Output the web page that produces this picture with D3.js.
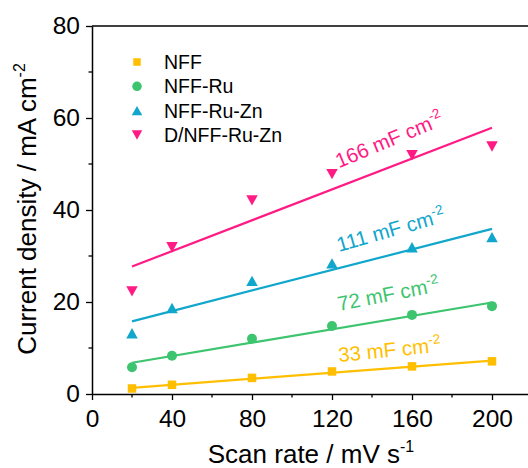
<!DOCTYPE html>
<html><head><meta charset="utf-8">
<script src="https://cdn.jsdelivr.net/npm/d3@7"></script>
<style>body{margin:0;background:#fff}svg{display:block;font-family:"Liberation Sans",Arial,sans-serif}</style>
</head><body><svg id="c" width="528" height="468"></svg>
<script>
const scanRates = [20, 40, 80, 120, 160, 200];
const seriesNames = ["NFF", "NFF-Ru", "NFF-Ru-Zn", "D/NFF-Ru-Zn"];
const nffValues = [1.2, 2.0, 3.5, 4.9, 6.0, 7.1];
const nffRuValues = [5.8, 8.3, 12.0, 14.8, 17.2, 19.1];
const nffRuZnValues = [13.2, 18.7, 24.6, 28.4, 31.9, 34.1];
const dNffRuZnValues = [22.3, 31.9, 42.1, 47.8, 51.9, 53.8];
const fitRange = [20, 200];
const fitStart = [1.35, 6.8, 15.8, 27.7];
const fitEnd = [7.25, 19.9, 35.9, 57.9];
const capLabels = ["33 mF cm", "72 mF cm", "111 mF cm", "166 mF cm"];
const xTicks = [0, 40, 80, 120, 160, 200];
const yTicks = [0, 20, 40, 60, 80];

const colors = ["#FFBF00", "#3CC46E", "#11A6CB", "#FF1A84"];
const shapes = ["square", "circle", "up", "down"];
const allValues = [nffValues, nffRuValues, nffRuZnValues, dNffRuZnValues];

const svg = d3.select("#c");
const x = d3.scaleLinear().domain([0, 220]).range([92, 532]);
const y = d3.scaleLinear().domain([0, 80]).range([394, 26]);

function shapePath(shape, s) {
  if (shape === "square") { const h = s / 2; return `M${-h},${-h}H${h}V${h}H${-h}Z`; }
  if (shape === "circle") { const r = s / 2; return `M${r},0A${r},${r} 0 1,1 ${-r},0A${r},${r} 0 1,1 ${r},0Z`; }
  const w = s / 2, h = s * 0.45;
  if (shape === "up") return `M0,${-h}L${w},${h}L${-w},${h}Z`;
  return `M0,${h}L${w},${-h}L${-w},${-h}Z`;
}
const markerSize = {square: 8.5, circle: 10, up: 11.5, down: 11.5};
const legendSize = {square: 7.5, circle: 9.5, up: 10.5, down: 10.5};

// axes
const xAxis = d3.axisBottom(x).tickValues(xTicks).tickSize(6).tickPadding(10).tickSizeOuter(0);
const gx = svg.append("g").attr("transform", "translate(0,394)").call(xAxis);
gx.append("g").selectAll("line").data([20, 60, 100, 140, 180]).join("line")
  .attr("x1", d => x(d)).attr("x2", d => x(d)).attr("y1", 0).attr("y2", 3.5)
  .attr("stroke", "#000").attr("stroke-width", 1.3);
const yAxis = d3.axisLeft(y).tickValues(yTicks).tickSize(6).tickPadding(6).tickSizeOuter(0);
const gy = svg.append("g").attr("transform", "translate(92,0)").call(yAxis);
gy.append("g").selectAll("line").data([10, 30, 50, 70]).join("line")
  .attr("x1", 0).attr("x2", -3.5).attr("y1", d => y(d)).attr("y2", d => y(d))
  .attr("stroke", "#000").attr("stroke-width", 1.3);
[gx, gy].forEach(g => {
  g.select(".domain").attr("stroke-width", 1.5);
  g.selectAll(".tick line").attr("stroke-width", 1.3);
  g.selectAll(".tick text").attr("font-size", 24.5).attr("fill", "#000").attr("font-family", "Liberation Sans, Arial, sans-serif");
});
svg.append("line").attr("x1", x(0)).attr("x2", x(220)).attr("y1", y(80)).attr("y2", y(80))
  .attr("stroke", "#000").attr("stroke-width", 1.5);

// axis titles
const xt = svg.append("text").attr("x", 311).attr("y", 463).attr("text-anchor", "middle")
  .attr("font-size", 26).attr("fill", "#000");
xt.append("tspan").text("Scan rate / mV s");
xt.append("tspan").attr("font-size", 16).attr("dy", -11).text("-1");
const yt = svg.append("text").attr("transform", "translate(36,209) rotate(-90)").attr("text-anchor", "middle")
  .attr("font-size", 26).attr("fill", "#000");
yt.append("tspan").text("Current density / mA cm");
yt.append("tspan").attr("font-size", 16).attr("dy", -11).text("-2");

// fits, markers, labels
const labelOffsets = [10, 17, 16, 18];
allValues.forEach((vals, i) => {
  svg.append("line").attr("x1", x(fitRange[0])).attr("y1", y(fitStart[i]))
    .attr("x2", x(fitRange[1])).attr("y2", y(fitEnd[i]))
    .attr("stroke", colors[i]).attr("stroke-width", 2.2);
  svg.append("g").selectAll("path").data(vals).join("path")
    .attr("d", shapePath(shapes[i], markerSize[shapes[i]]))
    .attr("transform", (d, j) => `translate(${x(scanRates[j])},${y(d)})`)
    .attr("fill", colors[i]);
  const slopePx = (y(fitEnd[i]) - y(fitStart[i])) / (x(fitRange[1]) - x(fitRange[0]));
  const ang = Math.atan(slopePx) * 180 / Math.PI - 1.5;
  const lx = 124;
  const ly = fitStart[i] + (fitEnd[i] - fitStart[i]) * (lx - fitRange[0]) / (fitRange[1] - fitRange[0]);
  const t = svg.append("text")
    .attr("transform", `translate(${x(lx) - 1},${y(ly) - labelOffsets[i]}) rotate(${ang})`)
    .attr("font-size", 20.5).attr("fill", colors[i]);
  t.append("tspan").text(capLabels[i]);
  t.append("tspan").attr("font-size", 13.5).attr("dy", -8.5).text("-2");
});

// legend
seriesNames.forEach((name, i) => {
  const ly = 62 + i * 24.3;
  svg.append("path").attr("d", shapePath(shapes[i], legendSize[shapes[i]]))
    .attr("transform", `translate(137,${ly})`).attr("fill", colors[i]);
  svg.append("text").attr("x", 164).attr("y", ly + 7).attr("font-size", 19.5).attr("fill", "#000").text(name);
});
</script></body></html>
